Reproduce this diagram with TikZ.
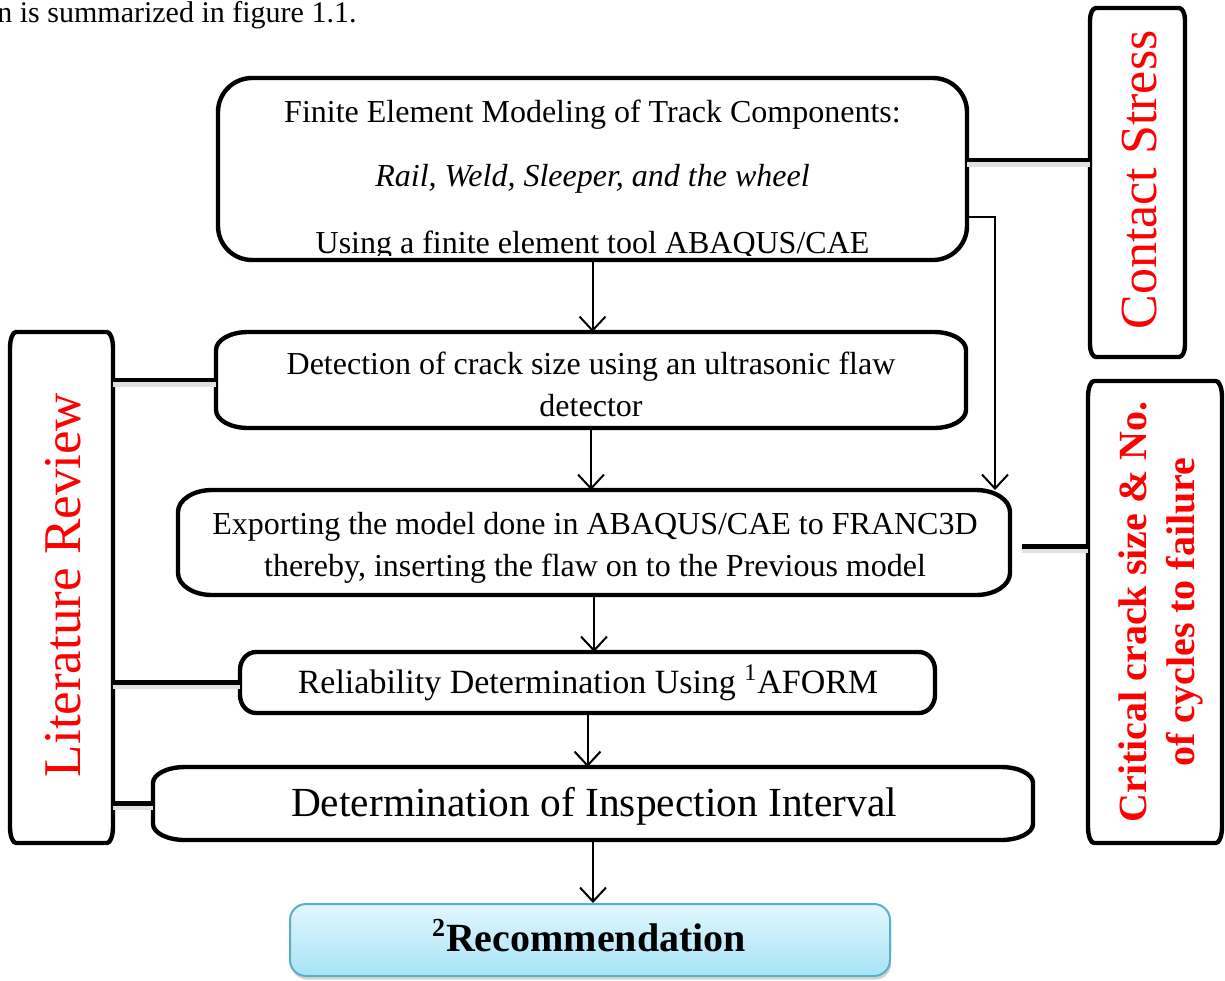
\documentclass[tikz,border=0pt]{standalone}
\usepackage{fontspec}
\setmainfont{Liberation Serif}
\usetikzlibrary{arrows.meta,calc,shadows}
\definecolor{recTop}{HTML}{E2F7FD}
\definecolor{recBot}{HTML}{A6E3F6}
\definecolor{recBorder}{HTML}{5AAFC6}
\newcommand\fsA{\fontsize{16}{21}\selectfont}
\newcommand\ellbox[4][]{%
 \draw[#1]
  ($(#2.north west)+(#3,0pt)$)
  -- ($(#2.north east)+(-#3,0pt)$)
  .. controls ($(#2.north east)+(-0.448*#3,0pt)$) and ($(#2.north east)+(0pt,-0.448*#4)$) .. ($(#2.north east)+(0pt,-#4)$)
  -- ($(#2.south east)+(0pt,#4)$)
  .. controls ($(#2.south east)+(0pt,0.448*#4)$) and ($(#2.south east)+(-0.448*#3,0pt)$) .. ($(#2.south east)+(-#3,0pt)$)
  -- ($(#2.south west)+(#3,0pt)$)
  .. controls ($(#2.south west)+(0.448*#3,0pt)$) and ($(#2.south west)+(0pt,0.448*#4)$) .. ($(#2.south west)+(0pt,#4)$)
  -- ($(#2.north west)+(0pt,-#4)$)
  .. controls ($(#2.north west)+(0pt,-0.448*#4)$) and ($(#2.north west)+(0.448*#3,0pt)$) .. ($(#2.north west)+(#3,0pt)$)
  -- cycle;}
\begin{document}
\begin{tikzpicture}[x=0.5pt,y=-0.5pt,
  box/.style={inner sep=0pt, outer sep=0pt},
  txt/.style={inner sep=0pt, align=center, text=black},
  arr/.style={line width=1pt, -{Straight Barb[length=7pt,width=13pt,line width=1pt]}},
  conn/.style={line width=2.2pt, preaction={draw=black!12, line width=3pt, transform canvas={yshift=-1.8pt}}},
  outline/.style={line width=2.2pt, line join=round},
  side/.style={text=red, rotate=90, inner sep=0pt},
]
\useasboundingbox (0,0) rectangle (1225,980);

\node[anchor=base west, inner sep=0pt, font=\fontsize{15}{16}\selectfont] (intro) at (-3,22) {n is summarized in figure 1.1.};

% box 1
\node[box, minimum width=374.5pt, minimum height=91pt] (box1) at (592.5,169) {};
\begin{scope}
 \clip (0,0) rectangle (1225,255);
 \node[anchor=base, txt, font=\fsA] (t1a) at (592.5,122) {Finite Element Modeling of Track Components:};
 \node[anchor=base, txt, font=\fsA\itshape] (t1b) at (592.5,186) {Rail, Weld, Sleeper, and the wheel};
 \node[anchor=base, txt, font=\fsA] (t1c) at (592.5,253) {Using a finite element tool ABAQUS/CAE};
\end{scope}
\ellbox[outline]{box1}{17pt}{17pt}

% box 2
\node[box, minimum width=375pt, minimum height=48pt] (box2) at (591,380) {};
\node[txt, font=\fsA] (t2) at (591,384) {Detection of crack size using an ultrasonic flaw\\detector};
\ellbox[outline]{box2}{16pt}{9pt}

% box 3
\node[box, minimum width=416pt, minimum height=52.5pt] (box3) at (594,542.5) {};
\node[txt, font=\fsA] (t3) at (595,548) {Exporting the model done in ABAQUS/CAE to FRANC3D\\thereby, inserting the flaw on to the Previous model};
\ellbox[outline]{box3}{17pt}{11pt}

% box 4
\node[box, minimum width=347.5pt, minimum height=30.5pt] (box4) at (587.5,682.5) {};
\node[txt, font=\fontsize{17}{19}\selectfont] (t4) at (588,683) {Reliability Determination Using \textsuperscript{1}AFORM};
\ellbox[outline]{box4}{8pt}{9pt}

% box 5
\node[box, minimum width=440pt, minimum height=36.5pt] (box5) at (593,803.5) {};
\node[txt, font=\fontsize{20.7}{22}\selectfont] (t5) at (594,806) {Determination of Inspection Interval};
\ellbox[outline]{box5}{16pt}{8pt}

% recommendation
\node[draw=recBorder, line width=1pt, rounded corners=8pt, top color=recTop, bottom color=recBot,
  minimum width=300pt, minimum height=36pt, inner sep=0pt,
  drop shadow={opacity=0.35, shadow xshift=0.6pt, shadow yshift=-1.8pt}] (rec) at (590,940) {};
\node[txt, font=\bfseries\fontsize{20}{22}\selectfont] (recT) at (589,936) {\textsuperscript{\fontsize{13}{13}\selectfont 2}Recommendation};

% side boxes
\node[box, minimum width=51.5pt, minimum height=255.5pt] (lit) at (61.5,587.5) {};
\ellbox[outline]{lit}{3pt}{8pt}
\node[side, font=\fontsize{26.5}{28}\selectfont] (litT) at (63,585) {Literature Review};

\node[box, minimum width=47.5pt, minimum height=174.5pt] (contact) at (1137.5,182.5) {};
\ellbox[outline]{contact}{3pt}{6pt}
\node[side, font=\fontsize{26}{28}\selectfont] (contactT) at (1140,180) {Contact Stress};

\node[box, minimum width=67pt, minimum height=231pt] (crit) at (1155,612) {};
\ellbox[outline]{crit}{3pt}{8pt}
\node[side, align=center, font=\bfseries\fontsize{20}{24}\selectfont] (critT) at (1161,612)
 {Critical crack size \& No.\\of cycles to failure};

% arrows
\draw[arr] (box1.south) -- (box1.south |- box2.north);
\draw[arr] (box2.south) -- (box2.south |- box3.north);
\draw[arr] (box3.south) -- (box3.south |- box4.north);
\draw[arr] (box4.south) -- (box4.south |- box5.north);
\draw[arr] (box5.south) -- (box5.south |- rec.north);
\draw[arr] ([yshift=-24pt]box1.east) -| ([xshift=-7.5pt]box3.north east);

% connectors
\coordinate (c1) at ([yshift=4.5pt]box1.east);
\draw[conn] (c1) -- (c1 -| contact.west);
\draw[conn] (box2.west) -- (box2.west -| lit.east);
\draw[conn] (box4.west) -- (box4.west -| lit.east);
\draw[conn] (box5.west) -- (box5.west -| lit.east);
\coordinate (c3) at ([xshift=6pt,yshift=-2pt]box3.east);
\draw[conn] (c3) -- (c3 -| crit.west);
\end{tikzpicture}
\end{document}
